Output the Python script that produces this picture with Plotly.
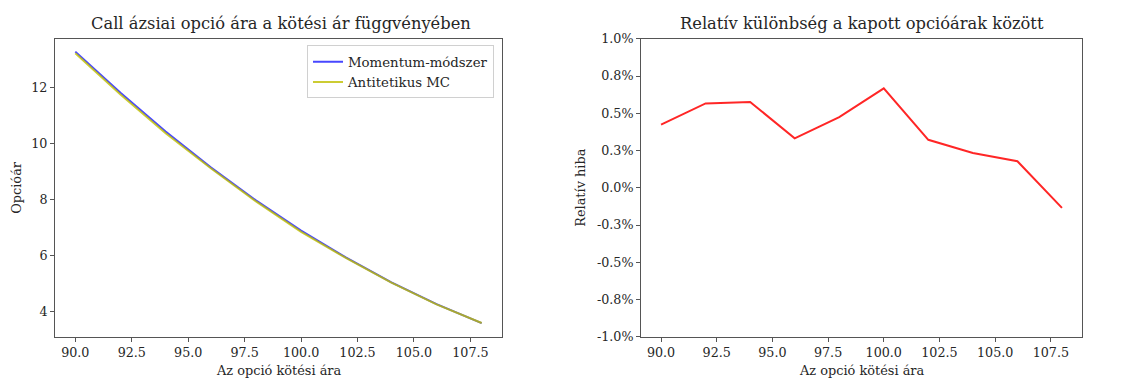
import plotly.graph_objects as go

# ---- data ----
strikes = [90, 92, 94, 96, 98, 100, 102, 104, 106, 108]
momentum_price = [13.29, 11.82, 10.43, 9.15, 7.97, 6.89, 5.92, 5.04, 4.26, 3.58]
antithetic_mc_price = [13.234, 11.753, 10.370, 9.120, 7.932, 6.844, 5.901, 5.028, 4.252, 3.585]
rel_diff_pct = [0.424, 0.566, 0.576, 0.332, 0.474, 0.667, 0.322, 0.233, 0.178, -0.135]

x_tickvals = [90, 92.5, 95, 97.5, 100, 102.5, 105, 107.5]
x_ticktext = ["90.0", "92.5", "95.0", "97.5", "100.0", "102.5", "105.0", "107.5"]
left_y_tickvals = [4, 6, 8, 10, 12]
left_y_ticktext = ["4", "6", "8", "10", "12"]
right_y_tickvals = [-1.0, -0.75, -0.5, -0.25, 0.0, 0.25, 0.5, 0.75, 1.0]
right_y_ticktext = ["-1.0%", "-0.8%", "-0.5%", "-0.3%", "0.0%", "0.3%", "0.5%", "0.8%", "1.0%"]

title_left = "Call ázsiai opció ára a kötési ár függvényében"
title_right = "Relatív különbség a kapott opcióárak között"
xlabel = "Az opció kötési ára"
ylabel_left = "Opcióár"
ylabel_right = "Relatív hiba"

W, H = 1128, 389
FONT = "DejaVu Serif"
TXT = "#262626"
AX = "#555555"

fig = go.Figure()
fig.add_trace(go.Scatter(x=strikes, y=momentum_price, mode="lines", name="Momentum-módszer",
                         line=dict(color="rgba(0,0,255,0.72)", width=2), xaxis="x", yaxis="y"))
fig.add_trace(go.Scatter(x=strikes, y=antithetic_mc_price, mode="lines", name="Antitetikus MC",
                         line=dict(color="rgba(191,191,0,0.8)", width=2), xaxis="x", yaxis="y"))
fig.add_trace(go.Scatter(x=strikes, y=rel_diff_pct, mode="lines", name="rel",
                         line=dict(color="rgba(255,0,0,0.85)", width=2), xaxis="x2", yaxis="y2",
                         showlegend=False))

def px_x(p):
    return p / W

def px_y(p):
    return 1 - p / H

common_axis = dict(showline=True, mirror=True, linecolor=AX, linewidth=1, showgrid=False,
                   zeroline=False, ticks="outside", ticklen=4, tickcolor=AX, tickwidth=1,
                   tickfont=dict(family=FONT, size=12.7, color=TXT))

fig.update_layout(
    width=W, height=H,
    margin=dict(l=0, r=0, t=0, b=0),
    paper_bgcolor="white", plot_bgcolor="white",
    font=dict(family=FONT, color=TXT),
    xaxis=dict(domain=[px_x(55), px_x(502)], range=[89.1, 108.9], tickvals=x_tickvals,
               ticktext=x_ticktext, anchor="y", **common_axis),
    yaxis=dict(domain=[px_y(342), px_y(32)], range=[3.09, 13.75], tickvals=left_y_tickvals,
               ticktext=left_y_ticktext, anchor="x", **common_axis),
    xaxis2=dict(domain=[px_x(641), px_x(1082)], range=[89.1, 108.9], tickvals=x_tickvals,
                ticktext=x_ticktext, anchor="y2", **common_axis),
    yaxis2=dict(domain=[px_y(342), px_y(32)], range=[-1.0, 1.0], tickvals=right_y_tickvals,
                ticktext=right_y_ticktext, anchor="x2", **common_axis),
    legend=dict(x=px_x(307), y=px_y(39), xanchor="left", yanchor="top",
                bgcolor="white", bordercolor="#d0d0d0", borderwidth=1,
                font=dict(family=FONT, size=13.3, color=TXT), tracegroupgap=0),
    showlegend=True,
)

ann = [
    dict(text=title_left, x=px_x(281), y=px_y(16), size=16.3),
    dict(text=title_right, x=px_x(861.5), y=px_y(16), size=16.3),
    dict(text=xlabel, x=px_x(278.5), y=px_y(377), size=12.9),
    dict(text=xlabel, x=px_x(861.5), y=px_y(377), size=12.9),
]
for a in ann:
    fig.add_annotation(text=a["text"], x=a["x"], y=a["y"], xref="paper", yref="paper",
                       xanchor="center", yanchor="middle", showarrow=False,
                       font=dict(family=FONT, size=a["size"], color=TXT))
for text, xp in [(ylabel_left, 17), (ylabel_right, 581)]:
    fig.add_annotation(text=text, x=px_x(xp), y=px_y(187), xref="paper", yref="paper",
                       xanchor="center", yanchor="middle", showarrow=False, textangle=-90,
                       font=dict(family=FONT, size=12.9, color=TXT))

fig.write_html("out.html",
               config={"displayModeBar": False},
               post_script="document.body.style.margin='0';document.body.style.overflow='hidden';")
